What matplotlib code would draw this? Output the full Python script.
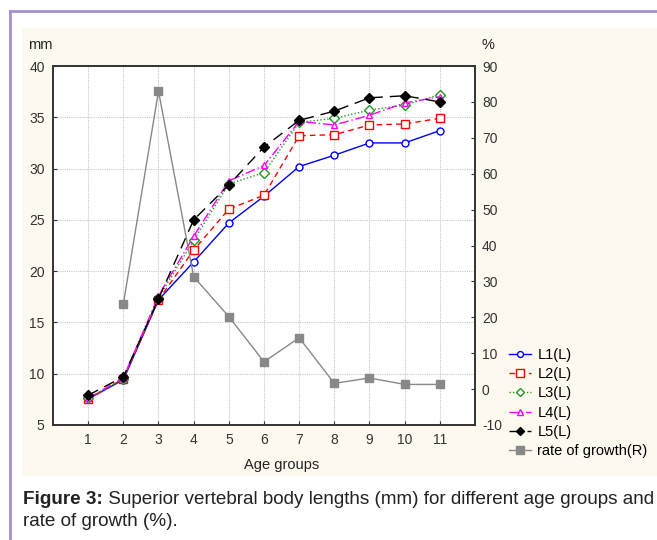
import matplotlib
matplotlib.use("Agg")
import matplotlib.pyplot as plt
from matplotlib.patches import Rectangle
from matplotlib.lines import Line2D

plt.rcParams['font.family'] = ['Liberation Sans', 'DejaVu Sans']
plt.rcParams['axes.unicode_minus'] = False

# data
age_groups = [1, 2, 3, 4, 5, 6, 7, 8, 9, 10, 11]
L1 = [7.55, 9.4, 17.2, 20.9, 24.7, 27.3, 30.2, 31.3, 32.5, 32.5, 33.7]
L2 = [7.5, 9.5, 17.2, 22.05, 26.05, 27.4, 33.2, 33.3, 34.25, 34.35, 34.9]
L3 = [7.6, 9.5, 17.4, 23.0, 28.5, 29.6, 34.5, 34.9, 35.7, 36.2, 37.2]
L4 = [7.6, 9.6, 17.6, 23.4, 28.8, 30.3, 34.6, 34.25, 35.2, 36.4, 37.0]
L5 = [7.9, 9.7, 17.3, 25.0, 28.4, 32.1, 34.7, 35.6, 36.9, 37.1, 36.5]
rate_groups = [2, 3, 4, 5, 6, 7, 8, 9, 10, 11]
rate = [23.7, 83.0, 31.3, 20.2, 7.6, 14.3, 1.6, 3.1, 1.3, 1.3]

fig = plt.figure(figsize=(6.57, 5.40), dpi=100)
fig.patch.set_facecolor('white')

W, H = 657.0, 540.0
# purple frame and cream panel
fig.add_artist(Line2D([10/W, 10/W], [0, 1 - 11/H], color='#a58fd0', lw=2.0, transform=fig.transFigure))
fig.add_artist(Line2D([10/W, 1], [1 - 11/H, 1 - 11/H], color='#a58fd0', lw=2.0, transform=fig.transFigure))
fig.add_artist(Rectangle((22/W, 1 - 476/H), 1 - 22/W, (476 - 28)/H, transform=fig.transFigure,
                         facecolor='#fef9ee', edgecolor='none', zorder=-5))

ax = fig.add_axes([53/W, 1 - 425/H, (475 - 53)/W, (425 - 66)/H])
ax.set_facecolor('white')

ax.plot(age_groups, L1, color='#0000ff', lw=1.0, marker='o', ms=5, mfc='white', mec='#0000ff', mew=1.0, label='L1(L)')
ax.plot(age_groups, L2, color='#ff0000', lw=1.0, ls=(0, (4, 3)), marker='s', ms=6, mfc='white', mec='#ff0000', mew=1.0, label='L2(L)')
ax.plot(age_groups, L3, color='#1f9a1f', lw=1.0, ls=(0, (1, 1.5)), marker='D', ms=5, mfc='white', mec='#1f9a1f', mew=1.0, label='L3(L)')
ax.plot(age_groups, L4, color='#ff00ff', lw=1.0, ls=(0, (7, 2, 1, 2)), marker='^', ms=5, mfc='white', mec='#ff00ff', mew=1.0, label='L4(L)')
ax.plot(age_groups, L5, color='black', lw=1.0, ls=(0, (8, 5)), marker='D', ms=5, mfc='black', mec='black', label='L5(L)')

ax.set_xlim(0, 12)
ax.set_ylim(5, 40)
ax.set_xticks(age_groups)
ax.set_yticks(range(5, 41, 5))
ax.grid(True, color='#c8c8c8', ls=(0, (1, 1)), lw=0.8)
ax.set_axisbelow(True)
ax.tick_params(direction='in', length=3, labelsize=10, colors='#333333', pad=6)
for s in ax.spines.values():
    s.set_color('#333333')
    s.set_linewidth(1.2)

ax2 = ax.twinx()
ax2.plot(rate_groups, rate, color='#888888', lw=1.0, marker='s', ms=6, mfc='#888888', mec='#888888', label='rate of growth(R)')
ax2.set_ylim(-10, 90)
ax2.set_yticks(range(-10, 91, 10))
ax2.tick_params(direction='in', length=3, labelsize=10, colors='#333333', pad=5)
for s in ax2.spines.values():
    s.set_color('#333333')
    s.set_linewidth(1.2)

fig.text(40/W, 1 - 45/H, 'mm', fontsize=10.5, color='#222222', ha='center', va='center')
fig.text(488/W, 1 - 45/H, '%', fontsize=10.5, color='#222222', ha='center', va='center')
fig.text(282/W, 1 - 465/H, 'Age groups', fontsize=10.5, color='#222222', ha='center', va='center')

h1, l1 = ax.get_legend_handles_labels()
h2, l2 = ax2.get_legend_handles_labels()
fig.legend(h1 + h2, l1 + l2, loc='upper left', bbox_to_anchor=(509/W, 1 - 348/H),
           frameon=False, fontsize=10.5, handlelength=1.5, handletextpad=0.45,
           labelspacing=0.36, borderaxespad=0, borderpad=0, markerscale=0.85)

cap = fig.text(23/W, 1 - 500/H, 'Figure 3:', fontsize=13.6, fontweight='bold',
               color='#222222', va='center')
fig.text(23/W, 1 - 521/H, 'rate of growth (%).', fontsize=13.6,
         color='#222222', va='center')
ax.annotate(' Superior vertebral body lengths (mm) for different age groups and',
            xy=(1, 0.5), xycoords=cap, va='center', ha='left', fontsize=13.6,
            color='#222222', annotation_clip=False)

fig.savefig('out.png', dpi=100)
